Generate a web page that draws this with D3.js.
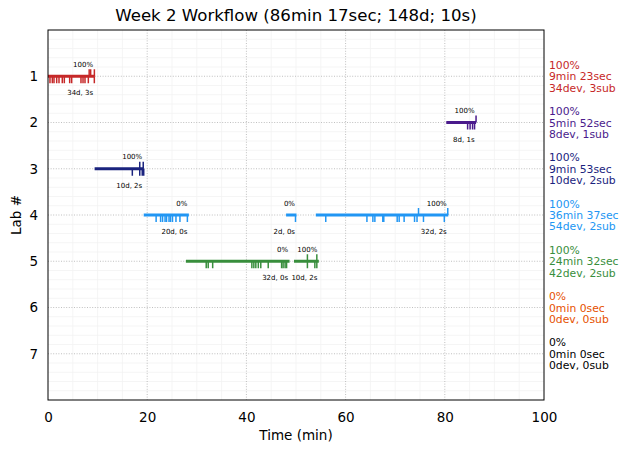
<!DOCTYPE html>
<html>
<head>
<meta charset="utf-8">
<script src="https://cdn.jsdelivr.net/npm/d3@7"></script>
<style>
  body { margin: 0; background: #fff; }
  text { font-family: "DejaVu Sans", sans-serif; }
</style>
</head>
<body>
<div id="vis-holder"></div>
<script>
// Chart size and plot area
const width = 630;
const height = 453;
const margin = { top: 30, right: 86, bottom: 53, left: 48 };

// Lab rows and their colours
const labs = [1, 2, 3, 4, 5, 6, 7];
const labColors = ["#c62828", "#4a1a8c", "#1a237e", "#2196f3", "#388e3c", "#e65100", "#000000"];

// Summary text on the right side
const labPct = ["100%", "100%", "100%", "100%", "100%", "0%", "0%"];
const labTime = ["9min 23sec", "5min 52sec", "9min 53sec", "36min 37sec", "24min 32sec", "0min 0sec", "0min 0sec"];
const labCounts = ["34dev, 3sub", "8dev, 1sub", "10dev, 2sub", "54dev, 2sub", "42dev, 2sub", "0dev, 0sub", "0dev, 0sub"];

// Work sessions (minutes)
const segLab = [1, 2, 3, 4, 4, 4, 5, 5];
const segStart = [0, 80.3, 9.4, 19.3, 48.0, 54.0, 27.8, 49.6];
const segEnd = [9.4, 86.3, 19.3, 28.4, 50.1, 80.7, 48.7, 54.6];
const segPct = ["100%", "100%", "100%", "0%", "0%", "100%", "0%", "100%"];
const segCounts = ["34d, 3s", "8d, 1s", "10d, 2s", "20d, 0s", "2d, 0s", "32d, 2s", "32d, 0s", "10d, 2s"];

// Device runs (down ticks) and submissions (up ticks) per session
const segDev = [
  [0.4, 0.87, 1.21, 1.75, 2.22, 2.88, 3.29, 4.37, 4.77, 6.65, 7.06, 7.46, 8.13, 9.34],
  [84.6, 85.1, 85.6, 86.0],
  [17.0, 18.5, 19.0, 19.3],
  [21.8, 22.7, 23.1, 23.6, 23.9, 24.4, 24.7, 25.1, 25.8, 26.6, 28.1],
  [49.9],
  [56.0, 64.3, 65.5, 65.9, 67.5, 67.7, 70.4, 70.8, 71.8, 73.9, 74.4, 75.7, 79.9],
  [31.9, 32.3, 33.2, 41.1, 41.5, 41.9, 42.4, 42.9, 44.4, 47.1, 47.4, 47.8, 48.1],
  [52.3, 53.8, 54.2]
];
const segSub = [
  [8.3, 8.6, 9.35],
  [86.3],
  [18.5, 19.2],
  [],
  [],
  [74.7, 80.6],
  [],
  [52.3, 54.2]
];

const xTicks = [0, 20, 40, 60, 80, 100];

const svg = d3.select("#vis-holder")
  .append("svg")
  .attr("width", width)
  .attr("height", height);

// Scales
const x = d3.scaleLinear()
  .domain([0, 100])
  .range([margin.left, width - margin.right]);

const y = d3.scaleLinear()
  .domain([0, 8])
  .range([margin.top, height - margin.bottom]);

// Minor grid
svg.append("g")
  .selectAll("line")
  .data(d3.range(5, 100, 5).filter(v => v % 20 !== 0))
  .enter().append("line")
    .attr("x1", d => x(d)).attr("x2", d => x(d))
    .attr("y1", y(0)).attr("y2", y(8))
    .attr("stroke", "#f2f2f2").attr("stroke-width", 0.8);

svg.append("g")
  .selectAll("line")
  .data(d3.range(1, 40).map(i => i * 0.2).filter(v => Math.abs(v - Math.round(v)) > 0.01))
  .enter().append("line")
    .attr("x1", x(0)).attr("x2", x(100))
    .attr("y1", d => y(d)).attr("y2", d => y(d))
    .attr("stroke", "#f2f2f2").attr("stroke-width", 0.8);

// Major grid (dotted)
svg.append("g")
  .selectAll("line")
  .data([20, 40, 60, 80])
  .enter().append("line")
    .attr("x1", d => x(d)).attr("x2", d => x(d))
    .attr("y1", y(0)).attr("y2", y(8))
    .attr("stroke", "#b0b0b0").attr("stroke-width", 0.8)
    .attr("stroke-dasharray", "1,1.6");

svg.append("g")
  .selectAll("line")
  .data(labs)
  .enter().append("line")
    .attr("x1", x(0)).attr("x2", x(100))
    .attr("y1", d => y(d)).attr("y2", d => y(d))
    .attr("stroke", "#b0b0b0").attr("stroke-width", 0.8)
    .attr("stroke-dasharray", "1,1.6");

// Axes (tick marks hidden, labels only)
svg.append("g")
  .attr("transform", `translate(0,${y(8)})`)
  .call(d3.axisBottom(x).tickValues(xTicks).tickSize(0).tickPadding(12))
  .call(g => g.select(".domain").remove())
  .selectAll("text")
    .attr("font-size", "13.5px")
    .attr("font-family", "DejaVu Sans")
    .attr("fill", "#000");

svg.append("g")
  .attr("transform", `translate(${x(0)},0)`)
  .call(d3.axisLeft(y).tickValues(labs).tickSize(0).tickPadding(10))
  .call(g => g.select(".domain").remove())
  .selectAll("text")
    .attr("font-size", "13.5px")
    .attr("font-family", "DejaVu Sans")
    .attr("fill", "#000");

// Sessions
const segIdx = d3.range(segLab.length);
const segColor = i => labColors[segLab[i] - 1];

segIdx.forEach(i => {
  const ly = y(segLab[i]);
  const g = svg.append("g");

  g.selectAll(".dev")
    .data(segDev[i])
    .enter().append("line")
      .attr("x1", d => x(d)).attr("x2", d => x(d))
      .attr("y1", ly).attr("y2", ly + 7)
      .attr("stroke", segColor(i)).attr("stroke-width", 1.5);

  g.selectAll(".sub")
    .data(segSub[i])
    .enter().append("line")
      .attr("x1", d => x(d)).attr("x2", d => x(d))
      .attr("y1", ly).attr("y2", ly - 7)
      .attr("stroke", segColor(i)).attr("stroke-width", 1.5);

  g.append("line")
    .attr("x1", x(segStart[i])).attr("x2", x(segEnd[i]))
    .attr("y1", ly).attr("y2", ly)
    .attr("stroke", segColor(i)).attr("stroke-width", 3);

  g.append("text")
    .attr("x", x(segEnd[i]) - 1.5)
    .attr("y", ly - 9.5)
    .attr("text-anchor", "end")
    .attr("font-size", "7px")
    .attr("fill", "#000")
    .text(segPct[i]);

  g.append("text")
    .attr("x", x(segEnd[i]) - 1.5)
    .attr("y", ly + 19)
    .attr("text-anchor", "end")
    .attr("font-size", "7px")
    .attr("fill", "#000")
    .text(segCounts[i]);
});

// Frame
svg.append("rect")
  .attr("x", x(0)).attr("y", y(0))
  .attr("width", x(100) - x(0)).attr("height", y(8) - y(0))
  .attr("fill", "none").attr("stroke", "#000").attr("stroke-width", 1);

// Right side summaries
const summary = svg.append("g");
labs.forEach((lab, i) => {
  const ly = y(lab);
  [labPct[i], labTime[i], labCounts[i]].forEach((t, k) => {
    summary.append("text")
      .attr("x", 549)
      .attr("y", ly + (k - 1) * 11.4 + 4)
      .attr("font-size", "10.8px")
      .attr("fill", labColors[i])
      .text(t);
  });
});

// Title and axis labels
svg.append("text")
  .attr("x", (x(0) + x(100)) / 2)
  .attr("y", 21)
  .attr("text-anchor", "middle")
  .attr("font-size", "16.6px")
  .text("Week 2 Workflow (86min 17sec; 148d; 10s)");

svg.append("text")
  .attr("x", (x(0) + x(100)) / 2)
  .attr("y", 440)
  .attr("text-anchor", "middle")
  .attr("font-size", "13.5px")
  .text("Time (min)");

svg.append("text")
  .attr("transform", `translate(21,${(y(0) + y(8)) / 2}) rotate(-90)`)
  .attr("text-anchor", "middle")
  .attr("font-size", "13.5px")
  .text("Lab #");
</script>
</body>
</html>
